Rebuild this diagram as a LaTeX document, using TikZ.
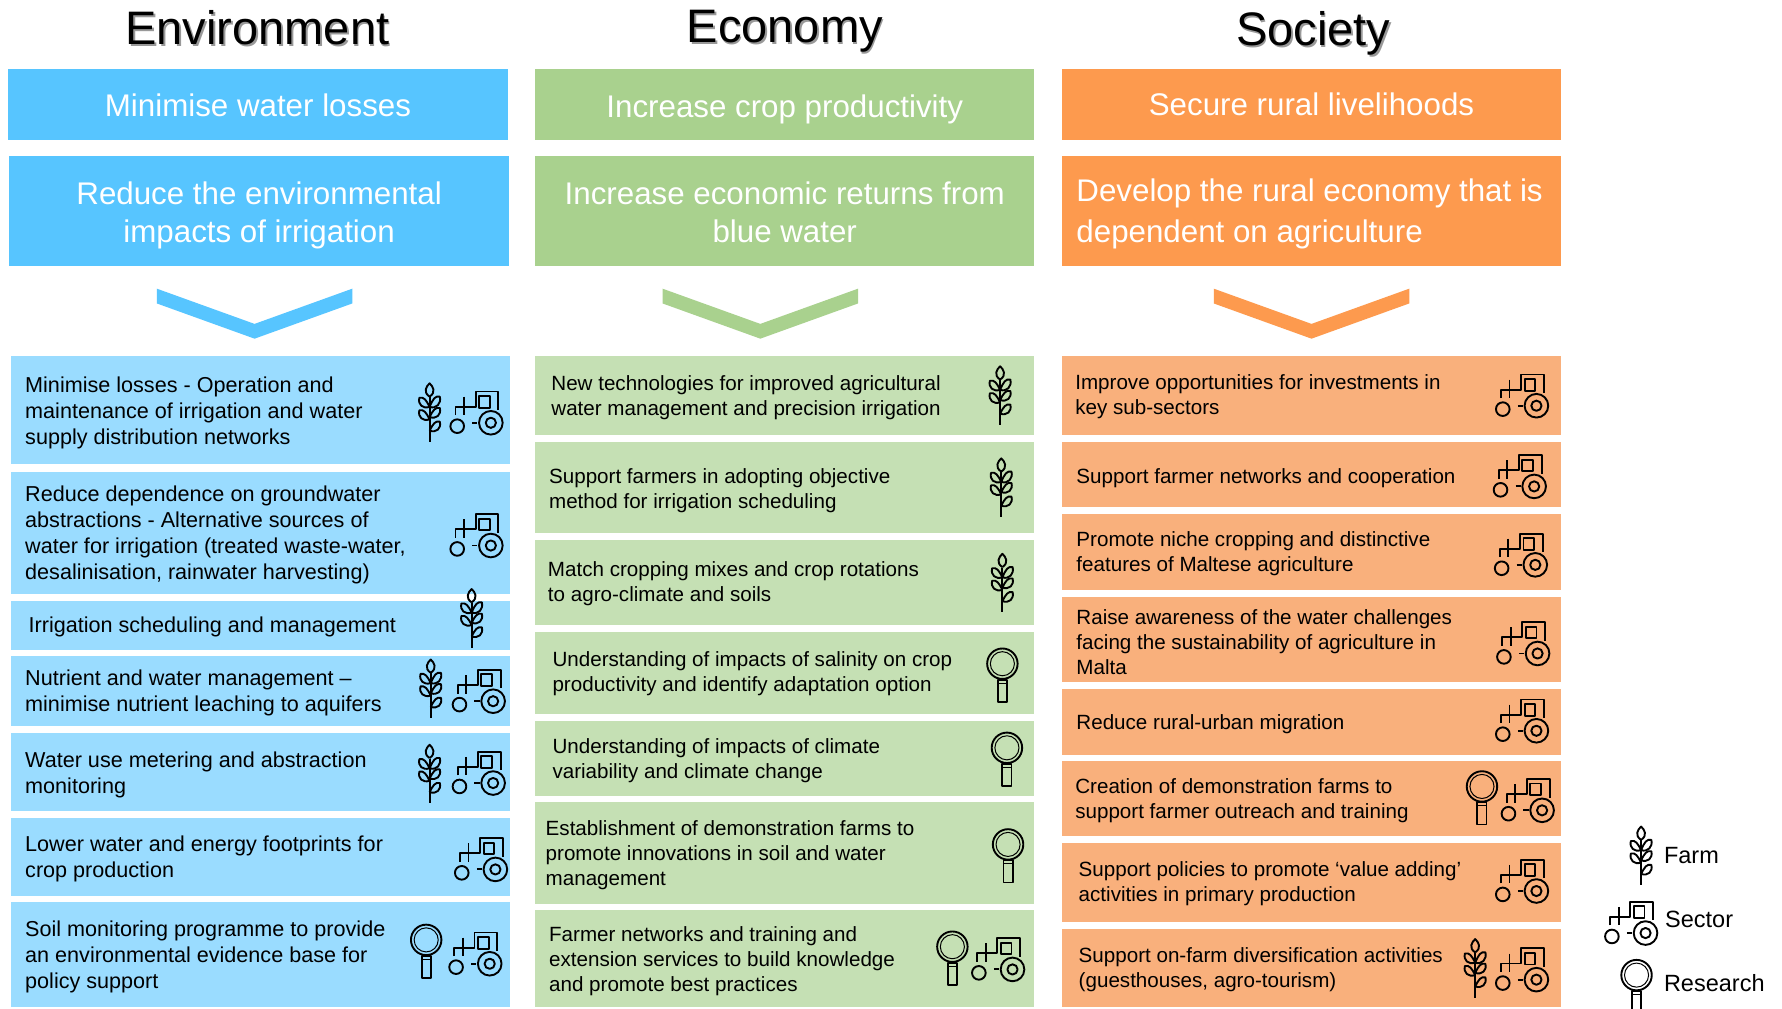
\documentclass[tikz,border=0pt]{standalone}
\usepackage{fontspec}
\setmainfont{Liberation Sans}
\definecolor{bluehead}{HTML}{57C5FF}
\definecolor{blueitem}{HTML}{9ADCFF}
\definecolor{greenhead}{HTML}{A9D18E}
\definecolor{greenitem}{HTML}{C5E0B4}
\definecolor{orangehead}{HTML}{FD9A4E}
\definecolor{orangeitem}{HTML}{F9B07C}
\newcommand{\fsz}[2]{\fontsize{#1}{#2}\selectfont}
\tikzset{
  x=1.13648pt,y=-1.13648pt,
  headtxt/.style={text=white,align=center,inner sep=0pt,font=\fsz{31.3}{38}},
  titletxt/.style={text=black,inner sep=0pt,font=\fsz{47}{50}},
  titleshadow/.style={text=black!40,inner sep=0pt,font=\fsz{47}{50}},
  envtxt/.style={anchor=west,align=left,inner sep=0pt,yshift=-2.2pt,font=\fsz{21.6}{26}},
  othertxt/.style={anchor=west,align=left,inner sep=0pt,yshift=-2.2pt,font=\fsz{20.6}{25}},
  legtxt/.style={anchor=west,inner sep=0pt,font=\fsz{23.5}{26}},
  icon/.style={draw=black,line width=1.9pt,fill=none,line join=round},
  pics/farm/.style={code={
    \draw[icon] (0,-13.6) -- (0,25.8);
    \draw[icon] (0,-14) .. controls (-6,-18) and (-3,-23) .. (0,-25.7) .. controls (3,-23) and (6,-18) .. (0,-14);
    \foreach \ya/\yb in {-5/-13,6/-2}{
      \draw[icon] (0,\ya) .. controls (-3,\yb+2) and (-5,\yb-1) .. (-9,\yb) .. controls (-10.5,\yb+6) and (-6,\ya+2) .. (0,\ya);
    }
    \foreach \ya/\yb in {-5/-14,4/-4,16/8}{
      \draw[icon] (0,\ya) .. controls (3,\yb+2) and (5,\yb-1) .. (9,\yb) .. controls (10.5,\yb+6) and (6,\ya+2) .. (0,\ya);
    }
  }},
  pics/sector/.style={code={
    \draw[icon] (12.9,10) circle[radius=10.4];
    \draw[icon] (12.9,10) circle[radius=4.5];
    \draw[icon] (-16.7,13) circle[radius=6];
    \draw[icon] (-3.5,10) -- (1,10);
    \draw[icon] (-18.2,3.3) -- (-18.2,-4.2) -- (-0.5,-4.2) -- (-0.5,-17.5) -- (19.5,-17.5) -- (19.5,-1.2);
    \draw[icon] (-10.8,-13) -- (-10.8,3.3);
    \draw[icon] (2.5,-13.6) rectangle (12,-3.3);
  }},
  pics/research/.style={code={
    \draw[icon] (0,-10) circle[radius=13.4];
    \draw[icon,line width=1pt] (0,-10) circle[radius=10.6];
    \draw[icon] (-4,4) rectangle (4,23.5);
    \draw[icon,line width=1pt] (-4,7) -- (4,7);
  }}
}
\newcommand{\panel}[6]{\fill[#6] (#2,#3) rectangle (#4,#5); \coordinate (#1) at (#2,#3);}
\begin{document}
\begin{tikzpicture}
\clip (0,0) rectangle (1568,887);
\fill[white] (0,0) rectangle (1568,887);

% titles
\node[titleshadow] (t1s) at (228,26) {Environment};
\node[titletxt] (t1) at (226.5,24.5) {Environment};
\node[titleshadow] (t2s) at (692,29) {Economy};
\node[titletxt] (t2) at (690.5,27.5) {Economy};
\node[titleshadow] (t3s) at (1157,31) {Society};
\node[titletxt] (t3) at (1155.5,29.5) {Society};

% headers
\panel{ha}{7}{61}{447}{123}{bluehead}
\node[headtxt] (hat) at (227,93) {Minimise water losses};
\panel{hb}{8}{137}{448}{234}{bluehead}
\node[headtxt] (hbt) at (228,189.5) {Reduce the environmental\\impacts of irrigation};
\panel{hc}{471}{61}{910}{123}{greenhead}
\node[headtxt] (hct) at (690.5,96) {Increase crop productivity};
\panel{hd}{471}{137}{910}{234}{greenhead}
\node[headtxt] (hdt) at (690.5,186.5) {Increase economic returns from\\blue water};
\panel{he}{934.5}{61}{1373.5}{123}{orangehead}
\node[headtxt] (het) at (1154,92) {Secure rural livelihoods};
\panel{hf}{934.5}{137}{1373.5}{234}{orangehead}
\node[headtxt,anchor=west,align=left] (hft) at (947,188) {Develop the rural economy that is\\[2.5pt]dependent on agriculture};

% chevrons
\fill[bluehead] (138,254) -- (224,285) -- (310,254) -- (310,267) -- (224,298) -- (138,267) -- cycle;
\fill[greenhead] (583,254) -- (669,285) -- (755,254) -- (755,267) -- (669,298) -- (583,267) -- cycle;
\fill[orangehead] (1068,254) -- (1154,285) -- (1240,254) -- (1240,267) -- (1154,298) -- (1068,267) -- cycle;

% Environment rows
\panel{e1}{10}{313}{449}{408}{blueitem}
\panel{e2}{10}{415}{449}{523}{blueitem}
\panel{e3}{10}{529}{449}{572}{blueitem}
\panel{e4}{10}{577}{449}{639}{blueitem}
\panel{e5}{10}{645}{449}{714}{blueitem}
\panel{e6}{10}{720}{449}{788}{blueitem}
\panel{e7}{10}{794}{449}{886}{blueitem}
\node[envtxt] (e1t) at (22,361.5) {Minimise losses - Operation and\\maintenance of irrigation and water\\supply distribution networks};
\node[envtxt] (e2t) at (22,469) {Reduce dependence on groundwater\\abstractions - Alternative sources of\\water for irrigation (treated waste-water,\\desalinisation, rainwater harvesting)};
\node[envtxt] (e3t) at (25,550) {Irrigation scheduling and management};
\node[envtxt] (e4t) at (22,607.5) {Nutrient and water management –\\minimise nutrient leaching to aquifers};
\node[envtxt] (e5t) at (22,680) {Water use metering and abstraction\\monitoring};
\node[envtxt] (e6t) at (22,754) {Lower water and energy footprints for\\crop production};
\node[envtxt] (e7t) at (22,840) {Soil monitoring programme to provide\\an environmental evidence base for\\policy support};

% Economy rows
\panel{c1}{471}{313}{910}{383}{greenitem}
\panel{c2}{471}{389}{910}{469}{greenitem}
\panel{c3}{471}{475}{910}{550}{greenitem}
\panel{c4}{471}{556}{910}{628}{greenitem}
\panel{c5}{471}{634}{910}{700}{greenitem}
\panel{c6}{471}{706}{910}{795}{greenitem}
\panel{c7}{471}{801}{910}{886}{greenitem}
\node[othertxt] (c1t) at (485,348) {New technologies for improved agricultural\\water management and precision irrigation};
\node[othertxt] (c2t) at (483,430) {Support farmers in adopting objective\\method for irrigation scheduling};
\node[othertxt] (c3t) at (482,512) {Match cropping mixes and crop rotations\\to agro-climate and soils};
\node[othertxt] (c4t) at (486,591) {Understanding of impacts of salinity on crop\\productivity and identify adaptation option};
\node[othertxt] (c5t) at (486,667.5) {Understanding of impacts of climate\\variability and climate change};
\node[othertxt] (c6t) at (480,750.5) {Establishment of demonstration farms to\\promote innovations in soil and water\\management};
\node[othertxt] (c7t) at (483,844) {Farmer networks and training and\\extension services to build knowledge\\and promote best practices};

% Society rows
\panel{s1}{934.5}{313}{1373.5}{383}{orangeitem}
\panel{s2}{934.5}{389}{1373.5}{446}{orangeitem}
\panel{s3}{934.5}{452}{1373.5}{519}{orangeitem}
\panel{s4}{934.5}{525}{1373.5}{600}{orangeitem}
\panel{s5}{934.5}{606}{1373.5}{664}{orangeitem}
\panel{s6}{934.5}{670}{1373.5}{736}{orangeitem}
\panel{s7}{934.5}{742}{1373.5}{811}{orangeitem}
\panel{s8}{934.5}{817}{1373.5}{886}{orangeitem}
\node[othertxt] (s1t) at (946,347.5) {Improve opportunities for investments in\\key sub-sectors};
\node[othertxt] (s2t) at (947,419) {Support farmer networks and cooperation};
\node[othertxt] (s3t) at (947,485) {Promote niche cropping and distinctive\\features of Maltese agriculture};
\node[othertxt] (s4t) at (947,563.5) {Raise awareness of the water challenges\\facing the sustainability of agriculture in\\Malta};
\node[othertxt] (s5t) at (947,635) {Reduce rural-urban migration};
\node[othertxt] (s6t) at (946,703) {Creation of demonstration farms to\\support farmer outreach and training};
\node[othertxt] (s7t) at (949,776) {Support policies to promote ‘value adding’\\activities in primary production};
\node[othertxt] (s8t) at (949,851.5) {Support on-farm diversification activities\\(guesthouses, agro-tourism)};

% icons: environment
\foreach \px/\py in {378/363,379/606,378/681,415/544} \pic at (\px,\py) {farm};
\foreach \px/\py in {419/362,419/470,421/607,421/679,423/755,418/838} \pic at (\px,\py) {sector};
\pic at (375,837) {research};
% icons: economy
\foreach \px/\py in {880/348,881/429,882/513} \pic at (\px,\py) {farm};
\foreach \px/\py in {882/594,886/668,887/753,838/843} \pic at (\px,\py) {research};
\pic at (878,843) {sector};
% icons: society
\foreach \px/\py in {1339/347,1337/418,1338/487,1340/565,1339/633,1344/703,1339/774,1339/852} \pic at (\px,\py) {sector};
\pic at (1304,702) {research};
\pic at (1298,852) {farm};

% legend
\pic at (1444,753) {farm};
\pic at (1435,811) {sector};
\pic at (1440,868) {research};
\node[legtxt] (l1) at (1464,752.5) {Farm};
\node[legtxt] (l2) at (1465,809) {Sector};
\node[legtxt] (l3) at (1464,865) {Research};
\end{tikzpicture}
\end{document}
